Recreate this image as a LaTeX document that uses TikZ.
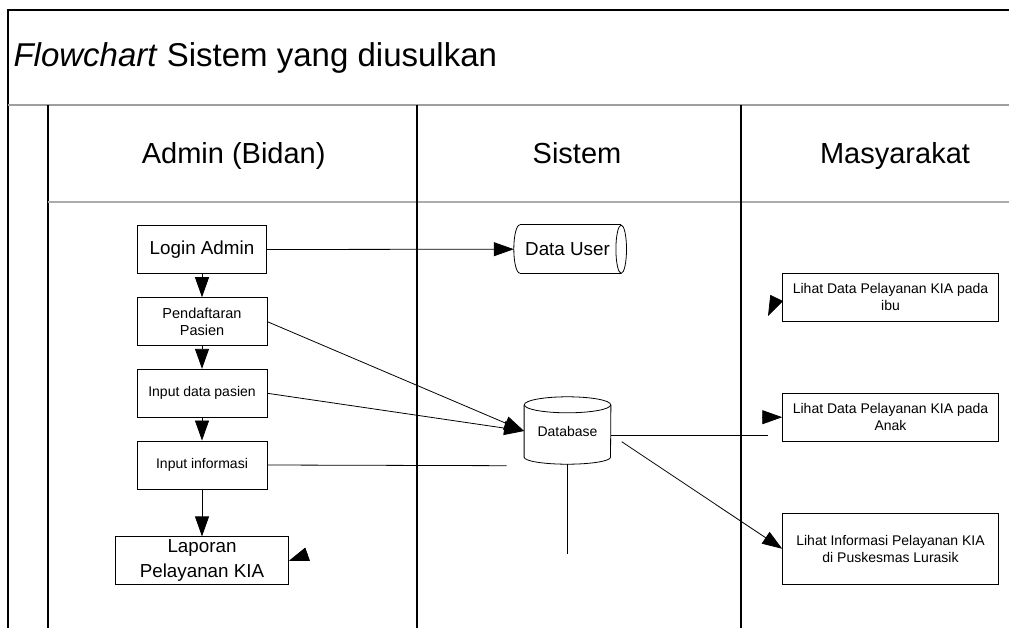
\documentclass[tikz,border=0pt]{standalone}
\usepackage{fontspec}
\setmainfont{Liberation Sans}
\usetikzlibrary{arrows.meta}
\newcommand\fsz[2]{\fontsize{#1}{#2}\selectfont}
\tikzset{%
    box/.style={draw,line width=0.9pt,align=center,inner sep=0pt,minimum height=48pt}
}

\begin{document}
\begin{tikzpicture}[
        x=1pt,y=-1pt,
        arr/.style={line width=0.8pt,-{Triangle[length=20pt,width=14pt]}},
        edge/.style={line width=0.8pt},
        lane/.style={line width=1.8pt},
        sep/.style={line width=2.5pt,gray!75}
        ]
        \useasboundingbox (0,0) rectangle (1009,628);

        % frame and lanes
        \draw[line width=1.1pt] (1009,10) -- (8,10) -- (8,628);
        \draw[sep] (8,105) -- (1009,105);
        \draw[lane] (48,105) -- (48,628);
        \draw[line width=1.8pt,gray!65] (48,202) -- (1009,202);
        \draw[lane] (417,105) -- (417,628);
        \draw[lane] (741,105) -- (741,628);

        \node[anchor=base west,font=\fsz{33}{38}] (title) at (10,66.7) {\textit{Flowchart} Sistem yang diusulkan};
        \node[anchor=base,font=\fsz{29}{34}] (hadmin) at (233.7,163.3) {Admin (Bidan)};
        \node[anchor=base,font=\fsz{29}{34}] (hsistem) at (577,163.3) {Sistem};
        \node[anchor=base,font=\fsz{29}{34}] (hmasy) at (895,163.3) {Masyarakat};

        % admin lane
        \node[box,minimum width=129.4pt,font=\fsz{18.8}{22}] (login) at (202,249.5) {Login Admin};
        \node[box,minimum width=130pt,font=\fsz{14.5}{16.7}] (daftar) at (202,321.7) {Pendaftaran\\Pasien};
        \node[box,minimum width=130pt,font=\fsz{14}{16}] (inpasien) at (202,393.3) {Input data pasien};
        \node[box,minimum width=130pt,font=\fsz{14}{16}] (ininfo) at (202,465) {Input informasi};
        \node[box,minimum width=172.6pt,font=\fsz{18.8}{25}] (lapor) at (202,560.9) {Laporan\\Pelayanan KIA};

        % sistem lane
        \node[minimum width=107pt,minimum height=48.3pt,inner sep=0pt,font=\fsz{18.8}{22}] (duser) at (567.5,249.2) {Data User};
        \draw[edge] ([xshift=6pt]duser.north west) -- (duser.north east);
        \draw[edge] ([xshift=6pt]duser.south west) -- (duser.south east);
        \draw[edge] (duser.east) ellipse [x radius=5.3pt,y radius=24.15pt];
        \draw[edge] ([xshift=6pt]duser.north west) arc[start angle=90,end angle=270,x radius=6pt,y radius=24.15pt];

        \node[minimum width=86.4pt,minimum height=52pt,inner sep=0pt,font=\fsz{14}{17}] (db) at (567.5,431) {Database};
        \draw[edge] (db.north) ellipse [x radius=43.2pt,y radius=8pt];
        \draw[edge] (db.north west) -- (db.south west) arc[start angle=180,end angle=360,x radius=43.2pt,y radius=7pt] -- (db.north east);

        % masyarakat lane
        \node[box,minimum width=215.6pt,font=\fsz{14}{17}] (ibu) at (890.5,297.2) {Lihat Data Pelayanan KIA pada\\ibu};
        \node[box,minimum width=215.6pt,font=\fsz{14}{17}] (anak) at (890.5,417.2) {Lihat Data Pelayanan KIA pada\\Anak};
        \node[box,minimum width=215.6pt,minimum height=71pt,font=\fsz{14}{17}] (lur) at (890.5,548.8) {Lihat Informasi Pelayanan KIA\\di Puskesmas Lurasik};

        \coordinate (infoend) at (506.7,465.7);
        \coordinate (dbfoot) at (567.5,554.3);
        \coordinate (anakend) at (768.3,435);
        \coordinate (anakhead) at (762.7,417.2);
        \coordinate (lurstart) at (621.7,441.7);
        \coordinate (ibuhead) at (776.7,298);
        \coordinate (ibutip) at (768,316);
        \coordinate (laphead) at (307.2,554.4);

        \draw[arr] (login) -- (daftar);
        \draw[arr] (daftar) -- (inpasien);
        \draw[arr] (inpasien) -- (ininfo);
        \draw[arr] (ininfo) -- (lapor);
        \draw[arr] (login.east) -- (duser.west);
        \draw[arr] (daftar.east) -- (db.west);
        \draw[arr] (inpasien.east) -- (db.west);
        \draw[edge] (ininfo.east) -- (infoend);
        \draw[edge] ([yshift=-7pt]db.south) -- (dbfoot);
        \draw[edge] ([yshift=-4pt]db.east) -- (anakend);
        \draw[arr] (anakhead) -- (anak.west);
        \draw[arr] (lurstart) -- (lur.west);
        \draw[arr] (ibuhead) -- (ibutip);
        \draw[arr] (laphead) -- (lapor.east);
    \end{tikzpicture}
\end{document}
